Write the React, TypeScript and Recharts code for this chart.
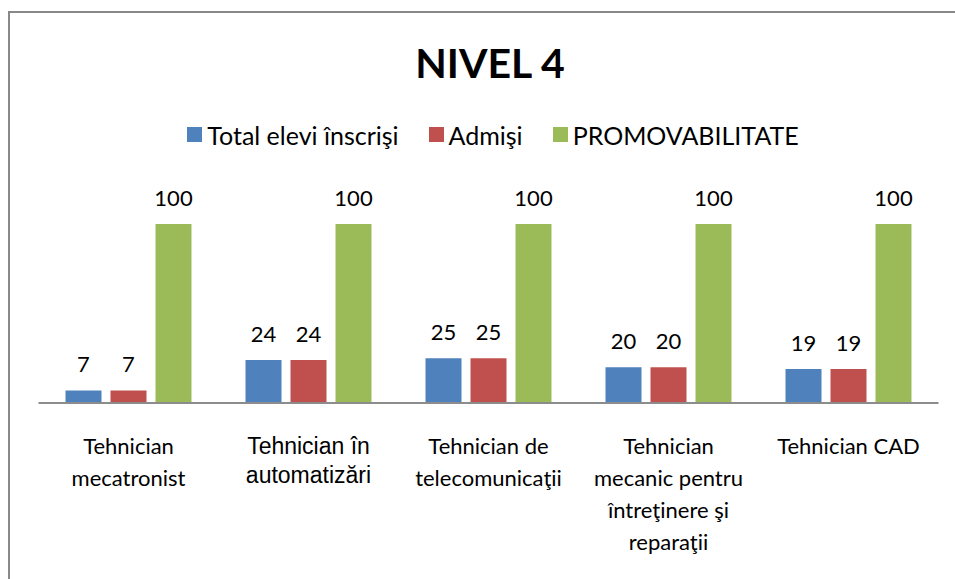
import { BarChart, Bar, XAxis, YAxis, LabelList, Legend } from 'recharts'

const categories = [
  ['Tehnician', 'mecatronist'],
  ['Tehnician în', 'automatizări'],
  ['Tehnician de', 'telecomunicaţii'],
  ['Tehnician', 'mecanic pentru', 'întreţinere şi', 'reparaţii'],
  ['Tehnician CAD'],
]
const totalElevi = [7, 24, 25, 20, 19]
const admisi = [7, 24, 25, 20, 19]
const promovabilitate = [100, 100, 100, 100, 100]

const seriesNames = ['Total elevi înscrişi', 'Admişi', 'PROMOVABILITATE']
const COLORS = ['#4F81BD', '#C0504D', '#9BBB59']

const FONT = 'Lato, "Noto Sans", sans-serif'
const LEGEND_H = 26

const data = categories.map((lines, i) => ({
  name: lines.join(' '),
  total: totalElevi[i],
  admisi: admisi[i],
  promo: promovabilitate[i],
}))

// axis labels are wrapped by hand like in the original sheet
const CategoryTick = (props: any) => {
  const { x, y, index } = props
  const lines = categories[index] || []
  const arial = index === 1
  return (
    <text
      x={x}
      y={y}
      textAnchor="middle"
      fill="#000"
      fontFamily={arial ? '"Liberation Sans", Arial, sans-serif' : FONT}
      fontSize={arial ? 23 : 22}
    >
      {lines.map((l, i) => (
        <tspan key={i} x={x} y={y + 51 + i * (arial ? 29 : 32)}>
          {l}
        </tspan>
      ))}
    </text>
  )
}

const LegendContent = () => (
  <div style={{ display: 'flex', justifyContent: 'center', gap: 30, fontFamily: FONT, fontSize: 25, height: LEGEND_H, paddingLeft: 21 }}>
    {seriesNames.map((n, i) => (
      <div key={n} style={{ display: 'flex', alignItems: 'center', gap: 5 }}>
        <div style={{ width: 15, height: 15, backgroundColor: COLORS[i] }} />
        <span style={{ color: '#000', lineHeight: LEGEND_H + 'px' }}>{n}</span>
      </div>
    ))}
  </div>
)

export default function App() {
  return (
    <div
      style={{
        position: 'fixed',
        left: 8,
        top: 11,
        width: 945,
        height: 566,
        borderTop: '2px solid #888',
        borderLeft: '2px solid #888',
        overflow: 'hidden',
        background: '#fff',
      }}
    >
      <svg width={945} height={100} style={{ position: 'absolute', left: 0, top: 0 }}>
        <text
          x={480}
          y={65}
          textAnchor="middle"
          fill="#000"
          style={{ fontFamily: FONT, fontWeight: 700, fontSize: 41 }}
        >
          NIVEL 4
        </text>
      </svg>
      <BarChart
        width={945}
        height={570}
        data={data}
        margin={{ top: 211 - LEGEND_H, right: 16.5, bottom: 0, left: 28.5 }}
        barCategoryGap="15%"
        barGap={9}
      >
        <XAxis
          dataKey="name"
          height={180}
          interval={0}
          tickSize={0}
          tickMargin={0}
          tickLine={false}
          axisLine={{ stroke: '#8C8C8C', strokeWidth: 2 }}
          tick={<CategoryTick />}
        />
        <YAxis hide domain={[0, 100]} />
        <Legend
          verticalAlign="top"
          content={<LegendContent />}
          wrapperStyle={{ top: 121.5 - LEGEND_H / 2, left: 0, width: 945 }}
        />
        <Bar dataKey="total" name={seriesNames[0]} fill={COLORS[0]} isAnimationActive={false}>
          <LabelList dataKey="total" position="top" offset={18} fill="#000" style={{ fontFamily: FONT, fontSize: 22 }} />
        </Bar>
        <Bar dataKey="admisi" name={seriesNames[1]} fill={COLORS[1]} isAnimationActive={false}>
          <LabelList dataKey="admisi" position="top" offset={18} fill="#000" style={{ fontFamily: FONT, fontSize: 22 }} />
        </Bar>
        <Bar dataKey="promo" name={seriesNames[2]} fill={COLORS[2]} isAnimationActive={false}>
          <LabelList dataKey="promo" position="top" offset={18} fill="#000" style={{ fontFamily: FONT, fontSize: 22 }} />
        </Bar>
      </BarChart>
    </div>
  )
}
